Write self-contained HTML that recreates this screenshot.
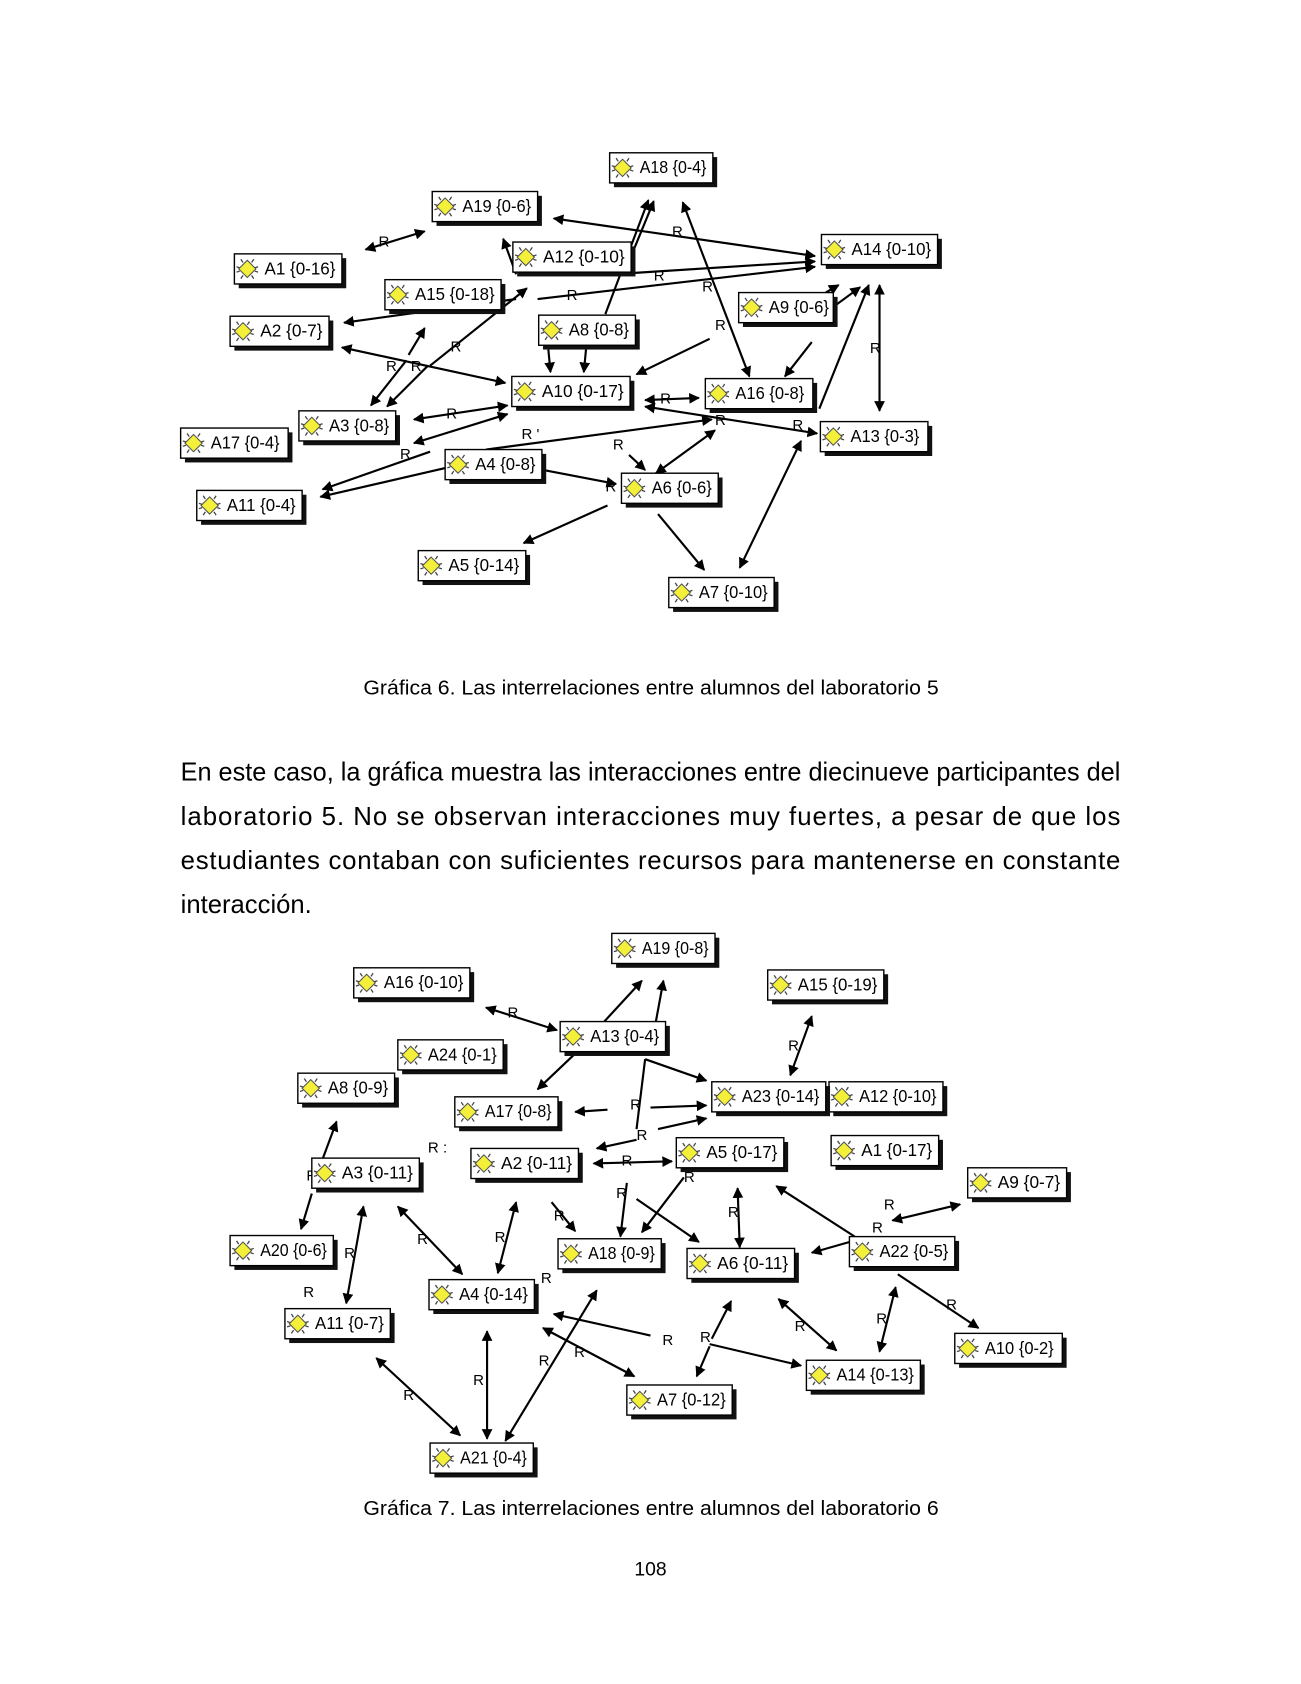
<!DOCTYPE html>
<html><head><meta charset="utf-8"><style>
html,body{margin:0;padding:0;background:#fff;}
svg{display:block;}
.n rect.b{fill:#fff;stroke:#000;stroke-width:1.3}
.n rect.s{fill:#111}
.n text{font-family:"Liberation Sans",sans-serif;font-size:16px;fill:#000}
.e{stroke:#000;stroke-width:2;fill:none}
.r{font-family:"Liberation Sans",sans-serif;font-size:14px;fill:#000}
.t{font-family:"Liberation Sans",sans-serif;fill:#000}
</style></head><body>
<svg width="1301" height="1684" viewBox="0 0 1210 1566" xmlns="http://www.w3.org/2000/svg">
<defs>
<marker id="a" viewBox="0 0 10 10" refX="9" refY="5" markerWidth="5" markerHeight="5" orient="auto-start-reverse"><path d="M0,0L10,5L0,10z" fill="#000"/></marker>
<g id="ic"><path d="M0,-8L8,0L0,8L-8,0z" fill="#f4f03a" stroke="#555" stroke-width="1"/><path d="M-6,-9l2,3M6,-9l-2,3M-6,9l2,-3M6,9l-2,-3M-10,-2l3,1M10,-2l-3,1M-10,3l3,-1M10,3l-3,-1" stroke="#444" stroke-width="1.2"/></g>
</defs>
<rect width="1210" height="1566" fill="#fff"/>

<!-- Graph 1 edges -->
<g class="e">
<line x1="515" y1="203" x2="758" y2="238" marker-start="url(#a)" marker-end="url(#a)"/>
<line x1="340" y1="232" x2="395" y2="215" marker-start="url(#a)" marker-end="url(#a)"/>
<line x1="580" y1="255" x2="608" y2="187" marker-end="url(#a)"/>
<line x1="563" y1="292" x2="603" y2="186" marker-end="url(#a)"/>
<line x1="635" y1="188" x2="697" y2="350" marker-start="url(#a)" marker-end="url(#a)"/>
<line x1="570" y1="255" x2="758" y2="243" marker-end="url(#a)"/>
<line x1="500" y1="278" x2="758" y2="248" marker-end="url(#a)"/>
<line x1="480" y1="278" x2="320" y2="300" marker-end="url(#a)"/>
<line x1="318" y1="323" x2="470" y2="356" marker-start="url(#a)" marker-end="url(#a)"/>
<line x1="378" y1="335" x2="345" y2="377" marker-end="url(#a)"/>
<line x1="398" y1="340" x2="360" y2="378" marker-end="url(#a)"/>
<line x1="380" y1="330" x2="395" y2="305" marker-end="url(#a)"/>
<line x1="400" y1="340" x2="490" y2="268" marker-end="url(#a)"/>
<line x1="468" y1="222" x2="480" y2="255" marker-start="url(#a)"/>
<line x1="510" y1="325" x2="512" y2="346" marker-end="url(#a)"/>
<line x1="545" y1="325" x2="543" y2="346" marker-end="url(#a)"/>
<line x1="660" y1="315" x2="592" y2="348" marker-end="url(#a)"/>
<line x1="755" y1="318" x2="730" y2="350" marker-end="url(#a)"/>
<line x1="762" y1="380" x2="808" y2="265" marker-end="url(#a)"/>
<line x1="818" y1="265" x2="818" y2="382" marker-start="url(#a)" marker-end="url(#a)"/>
<line x1="768" y1="272" x2="780" y2="265" marker-end="url(#a)"/>
<line x1="755" y1="300" x2="800" y2="267" marker-end="url(#a)"/>
<line x1="600" y1="372" x2="650" y2="370" marker-start="url(#a)" marker-end="url(#a)"/>
<line x1="600" y1="378" x2="760" y2="403" marker-start="url(#a)" marker-end="url(#a)"/>
<line x1="745" y1="410" x2="688" y2="528" marker-start="url(#a)" marker-end="url(#a)"/>
<line x1="612" y1="478" x2="655" y2="530" marker-end="url(#a)"/>
<line x1="385" y1="390" x2="472" y2="377" marker-start="url(#a)" marker-end="url(#a)"/>
<line x1="385" y1="412" x2="472" y2="385" marker-start="url(#a)" marker-end="url(#a)"/>
<line x1="452" y1="418" x2="662" y2="390" marker-end="url(#a)"/>
<line x1="415" y1="435" x2="298" y2="462" marker-end="url(#a)"/>
<line x1="400" y1="420" x2="300" y2="455" marker-end="url(#a)"/>
<line x1="505" y1="437" x2="573" y2="450" marker-end="url(#a)"/>
<line x1="610" y1="440" x2="665" y2="400" marker-start="url(#a)" marker-end="url(#a)"/>
<line x1="585" y1="423" x2="600" y2="437" marker-end="url(#a)"/>
<line x1="565" y1="470" x2="487" y2="505" marker-end="url(#a)"/>
</g>
<g class="r">
<text x="352" y="229">R</text><text x="625" y="220">R</text><text x="608" y="261">R</text><text x="527" y="279">R</text>
<text x="653" y="271">R</text><text x="665" y="307">R</text><text x="419" y="327">R</text><text x="359" y="345">R</text>
<text x="382" y="345">R</text><text x="809" y="328">R</text><text x="614" y="375">R</text><text x="415" y="389">R</text>
<text x="485" y="408">R '</text><text x="570" y="418">R</text><text x="372" y="427">R</text><text x="563" y="457">R</text>
<text x="665" y="395">R</text><text x="737" y="400">R</text>
</g>

<!-- Graph 1 nodes -->
<g class="n">
<g transform="translate(567,142)"><rect class="s" x="4" y="4" width="96" height="28"/><rect class="b" width="96" height="28"/><use href="#ic" x="12" y="14"/><text x="28" y="19" textLength="62" lengthAdjust="spacingAndGlyphs">A18 {0-4}</text></g>
<g transform="translate(402,178)"><rect class="s" x="4" y="4" width="98" height="28"/><rect class="b" width="98" height="28"/><use href="#ic" x="12" y="14"/><text x="28" y="19" textLength="64" lengthAdjust="spacingAndGlyphs">A19 {0-6}</text></g>
<g transform="translate(218,236)"><rect class="s" x="4" y="4" width="100" height="28"/><rect class="b" width="100" height="28"/><use href="#ic" x="12" y="14"/><text x="28" y="19" textLength="66" lengthAdjust="spacingAndGlyphs">A1 {0-16}</text></g>
<g transform="translate(477,225)"><rect class="s" x="4" y="4" width="110" height="28"/><rect class="b" width="110" height="28"/><use href="#ic" x="12" y="14"/><text x="28" y="19" textLength="76" lengthAdjust="spacingAndGlyphs">A12 {0-10}</text></g>
<g transform="translate(764,218)"><rect class="s" x="4" y="4" width="108" height="28"/><rect class="b" width="108" height="28"/><use href="#ic" x="12" y="14"/><text x="28" y="19" textLength="74" lengthAdjust="spacingAndGlyphs">A14 {0-10}</text></g>
<g transform="translate(358,260)"><rect class="s" x="4" y="4" width="108" height="28"/><rect class="b" width="108" height="28"/><use href="#ic" x="12" y="14"/><text x="28" y="19" textLength="74" lengthAdjust="spacingAndGlyphs">A15 {0-18}</text></g>
<g transform="translate(214,294)"><rect class="s" x="4" y="4" width="92" height="28"/><rect class="b" width="92" height="28"/><use href="#ic" x="12" y="14"/><text x="28" y="19" textLength="58" lengthAdjust="spacingAndGlyphs">A2 {0-7}</text></g>
<g transform="translate(501,293)"><rect class="s" x="4" y="4" width="90" height="28"/><rect class="b" width="90" height="28"/><use href="#ic" x="12" y="14"/><text x="28" y="19" textLength="56" lengthAdjust="spacingAndGlyphs">A8 {0-8}</text></g>
<g transform="translate(687,272)"><rect class="s" x="4" y="4" width="88" height="28"/><rect class="b" width="88" height="28"/><use href="#ic" x="12" y="14"/><text x="28" y="19" textLength="56" lengthAdjust="spacingAndGlyphs">A9 {0-6}</text></g>
<g transform="translate(476,350)"><rect class="s" x="4" y="4" width="110" height="28"/><rect class="b" width="110" height="28"/><use href="#ic" x="12" y="14"/><text x="28" y="19" textLength="76" lengthAdjust="spacingAndGlyphs">A10 {0-17}</text></g>
<g transform="translate(656,352)"><rect class="s" x="4" y="4" width="100" height="28"/><rect class="b" width="100" height="28"/><use href="#ic" x="12" y="14"/><text x="28" y="19" textLength="64" lengthAdjust="spacingAndGlyphs">A16 {0-8}</text></g>
<g transform="translate(278,382)"><rect class="s" x="4" y="4" width="90" height="28"/><rect class="b" width="90" height="28"/><use href="#ic" x="12" y="14"/><text x="28" y="19" textLength="56" lengthAdjust="spacingAndGlyphs">A3 {0-8}</text></g>
<g transform="translate(168,398)"><rect class="s" x="4" y="4" width="100" height="28"/><rect class="b" width="100" height="28"/><use href="#ic" x="12" y="14"/><text x="28" y="19" textLength="64" lengthAdjust="spacingAndGlyphs">A17 {0-4}</text></g>
<g transform="translate(763,392)"><rect class="s" x="4" y="4" width="100" height="28"/><rect class="b" width="100" height="28"/><use href="#ic" x="12" y="14"/><text x="28" y="19" textLength="64" lengthAdjust="spacingAndGlyphs">A13 {0-3}</text></g>
<g transform="translate(414,418)"><rect class="s" x="4" y="4" width="90" height="28"/><rect class="b" width="90" height="28"/><use href="#ic" x="12" y="14"/><text x="28" y="19" textLength="56" lengthAdjust="spacingAndGlyphs">A4 {0-8}</text></g>
<g transform="translate(578,440)"><rect class="s" x="4" y="4" width="90" height="28"/><rect class="b" width="90" height="28"/><use href="#ic" x="12" y="14"/><text x="28" y="19" textLength="56" lengthAdjust="spacingAndGlyphs">A6 {0-6}</text></g>
<g transform="translate(183,456)"><rect class="s" x="4" y="4" width="98" height="28"/><rect class="b" width="98" height="28"/><use href="#ic" x="12" y="14"/><text x="28" y="19" textLength="64" lengthAdjust="spacingAndGlyphs">A11 {0-4}</text></g>
<g transform="translate(389,512)"><rect class="s" x="4" y="4" width="100" height="28"/><rect class="b" width="100" height="28"/><use href="#ic" x="12" y="14"/><text x="28" y="19" textLength="66" lengthAdjust="spacingAndGlyphs">A5 {0-14}</text></g>
<g transform="translate(622,537)"><rect class="s" x="4" y="4" width="98" height="28"/><rect class="b" width="98" height="28"/><use href="#ic" x="12" y="14"/><text x="28" y="19" textLength="64" lengthAdjust="spacingAndGlyphs">A7 {0-10}</text></g>
</g>

<text class="t" x="338" y="646" font-size="19" textLength="535" lengthAdjust="spacingAndGlyphs">Gráfica 6. Las interrelaciones entre alumnos del laboratorio 5</text>
<text class="t" x="168" y="726" font-size="24" textLength="874" lengthAdjust="spacingAndGlyphs">En este caso, la gráfica muestra las interacciones entre diecinueve participantes del</text>
<text class="t" x="168" y="767" font-size="24" textLength="874" lengthAdjust="spacing">laboratorio 5. No se observan interacciones muy fuertes, a pesar de que los</text>
<text class="t" x="168" y="808" font-size="24" textLength="874" lengthAdjust="spacing">estudiantes contaban con suficientes recursos para mantenerse en constante</text>
<text class="t" x="168" y="849" font-size="24" textLength="122" lengthAdjust="spacingAndGlyphs">interacción.</text>

<!-- Graph 2 edges -->
<g class="e">
<line x1="562" y1="950" x2="597" y2="912" marker-end="url(#a)"/>
<line x1="610" y1="950" x2="617" y2="912" marker-end="url(#a)"/>
<line x1="452" y1="937" x2="518" y2="958" marker-start="url(#a)" marker-end="url(#a)"/>
<line x1="755" y1="945" x2="735" y2="1000" marker-start="url(#a)" marker-end="url(#a)"/>
<line x1="540" y1="975" x2="500" y2="1013" marker-end="url(#a)"/>
<line x1="600" y1="985" x2="657" y2="1005" marker-end="url(#a)"/>
<line x1="600" y1="985" x2="592" y2="1050"/>
<line x1="565" y1="1032" x2="535" y2="1034" marker-end="url(#a)"/>
<line x1="605" y1="1030" x2="657" y2="1028" marker-end="url(#a)"/>
<line x1="612" y1="1050" x2="657" y2="1040" marker-end="url(#a)"/>
<line x1="592" y1="1060" x2="555" y2="1068" marker-end="url(#a)"/>
<line x1="552" y1="1082" x2="625" y2="1080" marker-start="url(#a)" marker-end="url(#a)"/>
<line x1="583" y1="1100" x2="577" y2="1150" marker-end="url(#a)"/>
<line x1="636" y1="1095" x2="597" y2="1146" marker-end="url(#a)"/>
<line x1="592" y1="1115" x2="650" y2="1155" marker-end="url(#a)"/>
<line x1="300" y1="1078" x2="313" y2="1043" marker-end="url(#a)"/>
<line x1="290" y1="1110" x2="280" y2="1143" marker-end="url(#a)"/>
<line x1="322" y1="1212" x2="338" y2="1122" marker-start="url(#a)" marker-end="url(#a)"/>
<line x1="370" y1="1122" x2="430" y2="1185" marker-start="url(#a)" marker-end="url(#a)"/>
<line x1="480" y1="1118" x2="463" y2="1184" marker-start="url(#a)" marker-end="url(#a)"/>
<line x1="513" y1="1118" x2="535" y2="1145" marker-end="url(#a)"/>
<line x1="686" y1="1105" x2="688" y2="1160" marker-start="url(#a)" marker-end="url(#a)"/>
<line x1="795" y1="1150" x2="722" y2="1103" marker-end="url(#a)"/>
<line x1="790" y1="1155" x2="755" y2="1165" marker-end="url(#a)"/>
<line x1="830" y1="1135" x2="893" y2="1120" marker-start="url(#a)" marker-end="url(#a)"/>
<line x1="833" y1="1197" x2="818" y2="1257" marker-start="url(#a)" marker-end="url(#a)"/>
<line x1="835" y1="1185" x2="910" y2="1235" marker-end="url(#a)"/>
<line x1="724" y1="1208" x2="778" y2="1256" marker-start="url(#a)" marker-end="url(#a)"/>
<line x1="605" y1="1242" x2="515" y2="1222" marker-end="url(#a)"/>
<line x1="660" y1="1250" x2="745" y2="1270" marker-end="url(#a)"/>
<line x1="662" y1="1245" x2="680" y2="1210" marker-end="url(#a)"/>
<line x1="660" y1="1252" x2="648" y2="1280" marker-end="url(#a)"/>
<line x1="505" y1="1235" x2="590" y2="1280" marker-start="url(#a)" marker-end="url(#a)"/>
<line x1="555" y1="1200" x2="470" y2="1340" marker-start="url(#a)" marker-end="url(#a)"/>
<line x1="453" y1="1238" x2="453" y2="1338" marker-start="url(#a)" marker-end="url(#a)"/>
<line x1="350" y1="1263" x2="428" y2="1335" marker-start="url(#a)" marker-end="url(#a)"/>
</g>
<g class="r">
<text x="472" y="946">R</text><text x="733" y="977">R</text><text x="586" y="1032">R</text><text x="592" y="1060">R</text>
<text x="398" y="1072">R :</text><text x="578" y="1084">R</text><text x="636" y="1099">R</text><text x="573" y="1114">R</text>
<text x="515" y="1135">R</text><text x="460" y="1155">R</text><text x="388" y="1157">R</text><text x="677" y="1132">R</text>
<text x="822" y="1125">R</text><text x="811" y="1146">R</text><text x="320" y="1170">R</text><text x="282" y="1206">R</text>
<text x="503" y="1193">R</text><text x="880" y="1218">R</text><text x="815" y="1231">R</text><text x="739" y="1238">R</text>
<text x="616" y="1251">R</text><text x="651" y="1248">R</text><text x="534" y="1262">R</text><text x="501" y="1270">R</text>
<text x="440" y="1288">R</text><text x="375" y="1302">R</text><text x="285" y="1098">R</text>
</g>

<!-- Graph 2 nodes -->
<g class="n">
<g transform="translate(569,868)"><rect class="s" x="4" y="4" width="96" height="28"/><rect class="b" width="96" height="28"/><use href="#ic" x="12" y="14"/><text x="28" y="19" textLength="62" lengthAdjust="spacingAndGlyphs">A19 {0-8}</text></g>
<g transform="translate(329,900)"><rect class="s" x="4" y="4" width="108" height="28"/><rect class="b" width="108" height="28"/><use href="#ic" x="12" y="14"/><text x="28" y="19" textLength="74" lengthAdjust="spacingAndGlyphs">A16 {0-10}</text></g>
<g transform="translate(714,902)"><rect class="s" x="4" y="4" width="108" height="28"/><rect class="b" width="108" height="28"/><use href="#ic" x="12" y="14"/><text x="28" y="19" textLength="74" lengthAdjust="spacingAndGlyphs">A15 {0-19}</text></g>
<g transform="translate(521,950)"><rect class="s" x="4" y="4" width="98" height="28"/><rect class="b" width="98" height="28"/><use href="#ic" x="12" y="14"/><text x="28" y="19" textLength="64" lengthAdjust="spacingAndGlyphs">A13 {0-4}</text></g>
<g transform="translate(370,967)"><rect class="s" x="4" y="4" width="98" height="28"/><rect class="b" width="98" height="28"/><use href="#ic" x="12" y="14"/><text x="28" y="19" textLength="64" lengthAdjust="spacingAndGlyphs">A24 {0-1}</text></g>
<g transform="translate(277,998)"><rect class="s" x="4" y="4" width="90" height="28"/><rect class="b" width="90" height="28"/><use href="#ic" x="12" y="14"/><text x="28" y="19" textLength="56" lengthAdjust="spacingAndGlyphs">A8 {0-9}</text></g>
<g transform="translate(771,1006)"><rect class="s" x="4" y="4" width="106" height="28"/><rect class="b" width="106" height="28"/><use href="#ic" x="12" y="14"/><text x="28" y="19" textLength="72" lengthAdjust="spacingAndGlyphs">A12 {0-10}</text></g>
<g transform="translate(662,1006)"><rect class="s" x="4" y="4" width="106" height="28"/><rect class="b" width="106" height="28"/><use href="#ic" x="12" y="14"/><text x="28" y="19" textLength="72" lengthAdjust="spacingAndGlyphs">A23 {0-14}</text></g>
<g transform="translate(423,1020)"><rect class="s" x="4" y="4" width="96" height="28"/><rect class="b" width="96" height="28"/><use href="#ic" x="12" y="14"/><text x="28" y="19" textLength="62" lengthAdjust="spacingAndGlyphs">A17 {0-8}</text></g>
<g transform="translate(438,1068)"><rect class="s" x="4" y="4" width="100" height="28"/><rect class="b" width="100" height="28"/><use href="#ic" x="12" y="14"/><text x="28" y="19" textLength="66" lengthAdjust="spacingAndGlyphs">A2 {0-11}</text></g>
<g transform="translate(629,1058)"><rect class="s" x="4" y="4" width="100" height="28"/><rect class="b" width="100" height="28"/><use href="#ic" x="12" y="14"/><text x="28" y="19" textLength="66" lengthAdjust="spacingAndGlyphs">A5 {0-17}</text></g>
<g transform="translate(773,1056)"><rect class="s" x="4" y="4" width="100" height="28"/><rect class="b" width="100" height="28"/><use href="#ic" x="12" y="14"/><text x="28" y="19" textLength="66" lengthAdjust="spacingAndGlyphs">A1 {0-17}</text></g>
<g transform="translate(290,1077)"><rect class="s" x="4" y="4" width="100" height="28"/><rect class="b" width="100" height="28"/><use href="#ic" x="12" y="14"/><text x="28" y="19" textLength="66" lengthAdjust="spacingAndGlyphs">A3 {0-11}</text></g>
<g transform="translate(900,1086)"><rect class="s" x="4" y="4" width="92" height="28"/><rect class="b" width="92" height="28"/><use href="#ic" x="12" y="14"/><text x="28" y="19" textLength="58" lengthAdjust="spacingAndGlyphs">A9 {0-7}</text></g>
<g transform="translate(214,1149)"><rect class="s" x="4" y="4" width="96" height="28"/><rect class="b" width="96" height="28"/><use href="#ic" x="12" y="14"/><text x="28" y="19" textLength="62" lengthAdjust="spacingAndGlyphs">A20 {0-6}</text></g>
<g transform="translate(519,1152)"><rect class="s" x="4" y="4" width="96" height="28"/><rect class="b" width="96" height="28"/><use href="#ic" x="12" y="14"/><text x="28" y="19" textLength="62" lengthAdjust="spacingAndGlyphs">A18 {0-9}</text></g>
<g transform="translate(639,1161)"><rect class="s" x="4" y="4" width="100" height="28"/><rect class="b" width="100" height="28"/><use href="#ic" x="12" y="14"/><text x="28" y="19" textLength="66" lengthAdjust="spacingAndGlyphs">A6 {0-11}</text></g>
<g transform="translate(790,1150)"><rect class="s" x="4" y="4" width="98" height="28"/><rect class="b" width="98" height="28"/><use href="#ic" x="12" y="14"/><text x="28" y="19" textLength="64" lengthAdjust="spacingAndGlyphs">A22 {0-5}</text></g>
<g transform="translate(399,1190)"><rect class="s" x="4" y="4" width="98" height="28"/><rect class="b" width="98" height="28"/><use href="#ic" x="12" y="14"/><text x="28" y="19" textLength="64" lengthAdjust="spacingAndGlyphs">A4 {0-14}</text></g>
<g transform="translate(265,1217)"><rect class="s" x="4" y="4" width="98" height="28"/><rect class="b" width="98" height="28"/><use href="#ic" x="12" y="14"/><text x="28" y="19" textLength="64" lengthAdjust="spacingAndGlyphs">A11 {0-7}</text></g>
<g transform="translate(888,1240)"><rect class="s" x="4" y="4" width="100" height="28"/><rect class="b" width="100" height="28"/><use href="#ic" x="12" y="14"/><text x="28" y="19" textLength="64" lengthAdjust="spacingAndGlyphs">A10 {0-2}</text></g>
<g transform="translate(750,1265)"><rect class="s" x="4" y="4" width="106" height="28"/><rect class="b" width="106" height="28"/><use href="#ic" x="12" y="14"/><text x="28" y="19" textLength="72" lengthAdjust="spacingAndGlyphs">A14 {0-13}</text></g>
<g transform="translate(583,1288)"><rect class="s" x="4" y="4" width="98" height="28"/><rect class="b" width="98" height="28"/><use href="#ic" x="12" y="14"/><text x="28" y="19" textLength="64" lengthAdjust="spacingAndGlyphs">A7 {0-12}</text></g>
<g transform="translate(400,1342)"><rect class="s" x="4" y="4" width="96" height="28"/><rect class="b" width="96" height="28"/><use href="#ic" x="12" y="14"/><text x="28" y="19" textLength="62" lengthAdjust="spacingAndGlyphs">A21 {0-4}</text></g>
</g>

<text class="t" x="338" y="1409" font-size="19" textLength="535" lengthAdjust="spacingAndGlyphs">Gráfica 7. Las interrelaciones entre alumnos del laboratorio 6</text>
<text class="t" x="605" y="1465" font-size="18" text-anchor="middle">108</text>
</svg>
</body></html>
